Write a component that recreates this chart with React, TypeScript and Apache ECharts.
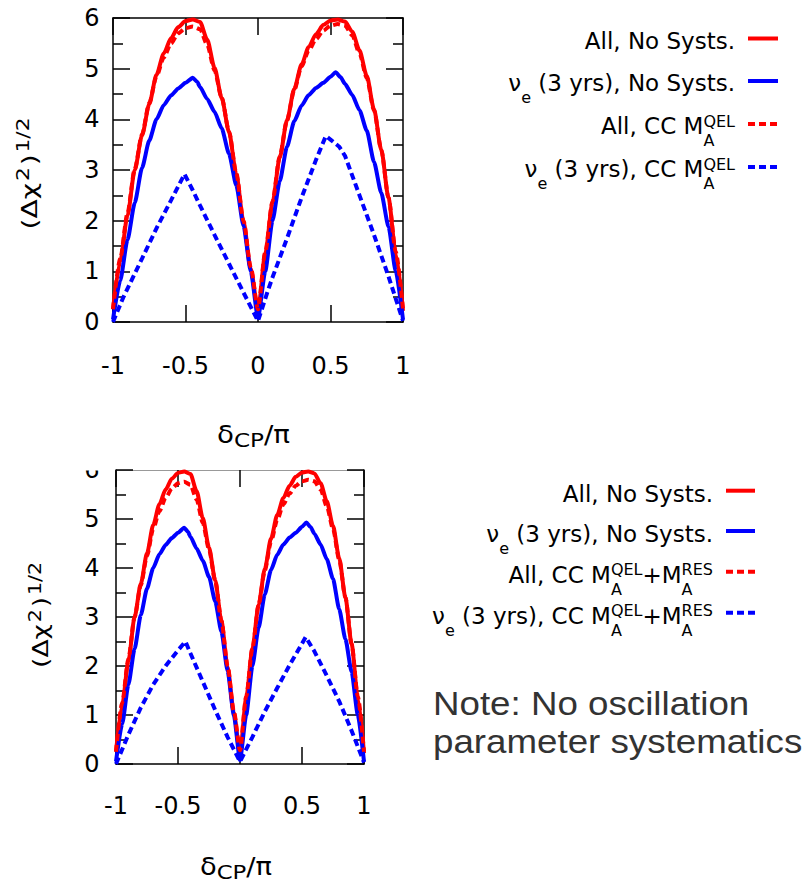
import React, { useEffect, useRef } from 'react';
import * as echarts from 'echarts';

// ---------- data ----------
const xTickValues = [-1, -0.5, 0, 0.5, 1];
const xTickLabels = ['-1', '-0.5', '0', '0.5', '1'];
const yTickLabels = ['0', '1', '2', '3', '4', '5', '6'];

// shared by both panels: "All, No Systs."
const allNoSyst = [
  [-1, 0.25], [-0.95, 1.2], [-0.9, 2.1], [-0.85, 3.0], [-0.8, 3.68], [-0.75, 4.3], [-0.7, 4.88],
  [-0.65, 5.3], [-0.6, 5.6], [-0.55, 5.82], [-0.5, 5.94], [-0.45, 5.97], [-0.4, 5.92], [-0.35, 5.57],
  [-0.3, 5.02], [-0.25, 4.42], [-0.2, 3.75], [-0.15, 2.92], [-0.1, 1.98], [-0.05, 1.05], [0, 0.22],
  [0.05, 1.35], [0.1, 2.35], [0.15, 3.25], [0.2, 3.98], [0.25, 4.6], [0.3, 5.08], [0.35, 5.43],
  [0.4, 5.68], [0.45, 5.86], [0.5, 5.95], [0.55, 5.97], [0.6, 5.93], [0.65, 5.73], [0.7, 5.36],
  [0.75, 4.86], [0.8, 4.2], [0.85, 3.4], [0.9, 2.45], [0.95, 1.35], [1, 0.22],
];
// shared by both panels: "nu_e (3 yrs), No Systs."
const nueNoSyst = [
  [-1, 0.05], [-0.95, 0.82], [-0.9, 1.62], [-0.85, 2.35], [-0.8, 3.04], [-0.75, 3.58], [-0.7, 4.0],
  [-0.65, 4.28], [-0.6, 4.47], [-0.55, 4.61], [-0.5, 4.72], [-0.45, 4.82], [-0.42, 4.74], [-0.4, 4.64],
  [-0.35, 4.4], [-0.3, 4.15], [-0.25, 3.82], [-0.2, 3.32], [-0.15, 2.7], [-0.1, 1.9], [-0.05, 1.0],
  [0, 0.08], [0.05, 1.0], [0.1, 2.0], [0.15, 2.78], [0.2, 3.46], [0.25, 3.96], [0.3, 4.27], [0.35, 4.48],
  [0.4, 4.62], [0.45, 4.72], [0.5, 4.84], [0.535, 4.93], [0.57, 4.83], [0.6, 4.7], [0.65, 4.48],
  [0.7, 4.18], [0.75, 3.78], [0.8, 3.16], [0.85, 2.55], [0.9, 1.88], [0.95, 1.0], [1, 0.05],
];
// top panel: CC M_A^QEL
const topAllQEL = [
  [-1, 0.25], [-0.95, 1.25], [-0.9, 2.15], [-0.85, 3.02], [-0.8, 3.7], [-0.75, 4.32], [-0.7, 4.85],
  [-0.65, 5.22], [-0.6, 5.5], [-0.55, 5.7], [-0.5, 5.8], [-0.45, 5.83], [-0.4, 5.78], [-0.35, 5.47],
  [-0.3, 4.97], [-0.25, 4.42], [-0.2, 3.76], [-0.15, 2.94], [-0.1, 2.0], [-0.05, 1.08], [0, 0.25],
  [0.05, 1.38], [0.1, 2.38], [0.15, 3.27], [0.2, 3.98], [0.25, 4.58], [0.3, 5.04], [0.35, 5.36],
  [0.4, 5.58], [0.45, 5.75], [0.5, 5.85], [0.55, 5.88], [0.6, 5.85], [0.65, 5.66], [0.7, 5.3],
  [0.75, 4.82], [0.8, 4.18], [0.85, 3.4], [0.9, 2.45], [0.95, 1.38], [1, 0.25],
];
const topNueQEL = [
  [-1, 0], [-0.93, 0.48], [-0.8, 1.25], [-0.7, 1.85], [-0.6, 2.4], [-0.507, 2.92], [-0.45, 2.6],
  [-0.4, 2.3], [-0.3, 1.72], [-0.2, 1.15], [-0.1, 0.58], [0, 0.02], [0.066, 0.6], [0.1, 0.88],
  [0.2, 1.65], [0.3, 2.45], [0.4, 3.2], [0.468, 3.67], [0.5, 3.6], [0.56, 3.46], [0.6, 3.28],
  [0.7, 2.5], [0.8, 1.72], [0.9, 0.9], [1, 0.02],
];
// bottom panel: CC M_A^QEL + M_A^RES
const botAllQELRES = [
  [-1, 0.25], [-0.95, 1.25], [-0.9, 2.15], [-0.85, 3.0], [-0.8, 3.65], [-0.75, 4.25], [-0.7, 4.8],
  [-0.65, 5.16], [-0.6, 5.43], [-0.55, 5.62], [-0.5, 5.73], [-0.45, 5.76], [-0.4, 5.7], [-0.35, 5.4],
  [-0.3, 4.92], [-0.25, 4.38], [-0.2, 3.74], [-0.15, 2.93], [-0.1, 2.0], [-0.05, 1.08], [0, 0.28],
  [0.05, 1.38], [0.1, 2.36], [0.15, 3.24], [0.2, 3.95], [0.25, 4.54], [0.3, 4.98], [0.35, 5.3],
  [0.4, 5.52], [0.45, 5.68], [0.5, 5.77], [0.55, 5.8], [0.6, 5.77], [0.65, 5.6], [0.7, 5.26],
  [0.75, 4.8], [0.8, 4.17], [0.85, 3.4], [0.9, 2.45], [0.95, 1.38], [1, 0.25],
];
const botNueQELRES = [
  [-1, 0], [-0.9, 0.6], [-0.8, 1.15], [-0.7, 1.62], [-0.6, 2.0], [-0.5, 2.32], [-0.44, 2.5],
  [-0.4, 2.26], [-0.3, 1.68], [-0.2, 1.1], [-0.1, 0.55], [0, 0.05], [0.1, 0.55], [0.2, 1.07],
  [0.3, 1.55], [0.4, 2.02], [0.53, 2.59], [0.6, 2.3], [0.7, 1.8], [0.8, 1.28], [0.9, 0.68], [1, 0.03],
];

type Seg = { t?: string; sub?: string; sup?: string };

const topLegendLabels: Seg[][] = [
  [{ t: 'All, No Systs.' }],
  [{ t: 'ν' }, { sub: 'e' }, { t: ' (3 yrs), No Systs.' }],
  [{ t: 'All, CC M' }, { sub: 'A', sup: 'QEL' }],
  [{ t: 'ν' }, { sub: 'e' }, { t: ' (3 yrs), CC M' }, { sub: 'A', sup: 'QEL' }],
];
const botLegendLabels: Seg[][] = [
  [{ t: 'All, No Systs.' }],
  [{ t: 'ν' }, { sub: 'e' }, { t: ' (3 yrs), No Systs.' }],
  [{ t: 'All, CC M' }, { sub: 'A', sup: 'QEL' }, { t: '+M' }, { sub: 'A', sup: 'RES' }],
  [{ t: 'ν' }, { sub: 'e' }, { t: ' (3 yrs), CC M' }, { sub: 'A', sup: 'QEL' }, { t: '+M' }, { sub: 'A', sup: 'RES' }],
];
const yNameSegs: Seg[] = [{ t: '(Δχ' }, { sup: '2' }, { t: ')' }, { sup: '1/2' }];
const xNameSegs: Seg[] = [{ t: 'δ' }, { sub: 'CP' }, { t: '/π' }];
const noteLines = ['Note: No oscillation', 'parameter systematics'];

// ---------- styles ----------
const FONT = '"DejaVu Sans", sans-serif';
const NOTE_FONT = '"Liberation Sans", Arial, sans-serif';
const RED = '#ff0000';
const BLUE = '#0000ff';
const DASH = [7, 4];
const seriesStyles = [
  { color: RED, dashed: false, smooth: 0.25 },
  { color: BLUE, dashed: false, smooth: 0.2 },
  { color: RED, dashed: true, smooth: 0.25 },
  { color: BLUE, dashed: true, smooth: 0 },
];

let ctx: CanvasRenderingContext2D | null = null;
function tw(s: string, size: number, family = FONT): number {
  if (!ctx) ctx = document.createElement('canvas').getContext('2d');
  if (!ctx) return s.length * size * 0.6;
  ctx.font = `${size}px ${family}`;
  return ctx.measureText(s).width;
}

function layoutSegs(segs: Seg[], main: number, small: number, subDy: number, supDy: number, gap = 0) {
  let x = 0;
  const items: { text: string; x: number; dy: number; size: number }[] = [];
  segs.forEach((s, i) => {
    if (s.t != null) {
      items.push({ text: s.t, x, dy: 0, size: main });
      x += tw(s.t, main);
    } else {
      let adv = 0;
      if (s.sub) {
        items.push({ text: s.sub, x, dy: subDy, size: small });
        adv = Math.max(adv, tw(s.sub, small));
      }
      if (s.sup) {
        items.push({ text: s.sup, x, dy: supDy, size: small });
        adv = Math.max(adv, tw(s.sup, small));
      }
      x += adv;
    }
    if (i < segs.length - 1) x += gap;
  });
  return { items, width: x };
}

function textEl(text: string, x: number, baseline: number, size: number, family = FONT, fill = '#000', scaleX = 1) {
  return {
    type: 'text',
    x,
    y: baseline - 0.35 * size,
    z: 10,
    scaleX,
    scaleY: 1,
    style: {
      text, fontSize: size, fontFamily: family, fill,
      textAlign: 'left', textVerticalAlign: 'middle', align: 'left', verticalAlign: 'middle',
    },
  };
}

function legendEls(labels: Seg[][], rightX: number, lx1: number, lx2: number, lineYs: number[], baseOff: number) {
  const els: any[] = [];
  labels.forEach((segs, i) => {
    const st = seriesStyles[i];
    const ly = lineYs[i];
    els.push({
      type: 'line', z: 10,
      shape: { x1: lx1, y1: ly, x2: lx2, y2: ly },
      style: { stroke: st.color, lineWidth: 4, lineDash: st.dashed ? DASH : null },
    });
    const { items, width } = layoutSegs(segs, 23, 16, 12, -7.8);
    const x0 = rightX - width;
    items.forEach((it) => els.push(textEl(it.text, x0 + it.x, ly + baseOff + it.dy, it.size)));
  });
  return els;
}

function yNameEl(baseX: number, centerY: number, target: number) {
  const { items, width } = layoutSegs(yNameSegs, 22, 17, 0, -7.5, 1.5);
  const s = target / width;
  return {
    type: 'group', x: baseX, y: centerY, rotation: Math.PI / 2, scaleX: s, scaleY: 1,
    children: items.map((it) => textEl(it.text, it.x - width / 2, it.dy, it.size)),
  };
}

function xNameEl(centerX: number, baseline: number, target: number) {
  const { items, width } = layoutSegs(xNameSegs, 24, 20, 4, 0, 0);
  const s = target / width;
  return {
    type: 'group', x: centerX, y: baseline, scaleX: s, scaleY: 1,
    children: items.map((it) => textEl(it.text, it.x - width / 2, it.dy, it.size)),
  };
}

function axesFor(gi: number, xMargin: number, yMargin: number, topColor: string) {
  const black = { color: '#000', width: 1.5 };
  const xBase = {
    gridIndex: gi, type: 'value', min: -1, max: 1, interval: 0.5,
    splitLine: { show: false },
    axisTick: { show: true, inside: true, length: 17, lineStyle: black },
  };
  const yBase = {
    gridIndex: gi, type: 'value', min: 0, max: 6, interval: 1,
    splitLine: { show: false },
    axisTick: { show: true, inside: true, length: 17, lineStyle: black },
    minorTick: { show: true, splitNumber: 2, length: 10, lineStyle: black },
  };
  const xAxes = [
    {
      ...xBase, position: 'bottom',
      axisLine: { show: true, onZero: false, lineStyle: black },
      axisLabel: {
        show: true, margin: xMargin, fontSize: 24, fontFamily: FONT, color: '#000',
        formatter: (v: number) => {
          const i = xTickValues.findIndex((t) => Math.abs(t - v) < 1e-9);
          return i >= 0 ? xTickLabels[i] : '';
        },
      },
    },
    {
      ...xBase, position: 'top',
      axisLine: { show: true, onZero: false, lineStyle: { color: topColor, width: topColor === '#000' ? 1.5 : 1 } },
      axisLabel: { show: false },
    },
  ];
  const yAxes = [
    {
      ...yBase, position: 'left',
      axisLine: { show: true, onZero: false, lineStyle: black },
      axisLabel: {
        show: true, margin: yMargin, fontSize: 24, fontFamily: FONT, color: '#000',
        formatter: (v: number) => yTickLabels[Math.round(v)] ?? '',
      },
    },
    {
      ...yBase, position: 'right',
      axisLine: { show: true, onZero: false, lineStyle: black },
      axisLabel: { show: false },
    },
  ];
  return { xAxes, yAxes };
}

function mkSeries(name: string, data: number[][], xi: number, yi: number, st: { color: string; dashed: boolean; smooth: number }) {
  return {
    name, type: 'line', data, xAxisIndex: xi, yAxisIndex: yi,
    showSymbol: false, symbol: 'none',
    smooth: st.smooth > 0 ? st.smooth : false, smoothMonotone: 'x',
    lineStyle: { color: st.color, width: 4, type: st.dashed ? DASH : 'solid' },
    itemStyle: { color: st.color },
  };
}

function buildOption() {
  const a0 = axesFor(0, 32, 13.5, '#000');
  const a1 = axesFor(1, 30, 16.5, '#999');
  const graphicEls: any[] = [
    // crop of the lower figure (upper half of its "6" label is cut off)
    { type: 'rect', z: 100, shape: { x: 40, y: 446, width: 74, height: 24.5 }, style: { fill: '#fff' } },
    ...legendEls(topLegendLabels, 735, 748, 778, [38.5, 81, 124, 167], 10.5),
    ...legendEls(botLegendLabels, 713, 726, 755, [490.7, 531, 571.7, 612.7], 11),
    yNameEl(37, 173.5, 112),
    yNameEl(48, 615, 106),
    xNameEl(253.5, 443, 73),
    xNameEl(236, 875, 72),
    ...noteLines.map((line, i) => textEl(line, 433, 715 + i * 38, 34, NOTE_FONT, '#333', 1.08)),
  ];
  return {
    animation: false,
    backgroundColor: '#fff',
    grid: [
      { left: 113, top: 18, width: 290, height: 304, show: false },
      { left: 116, top: 470, width: 248, height: 294, show: false },
    ],
    xAxis: [...a0.xAxes, ...a1.xAxes],
    yAxis: [...a0.yAxes, ...a1.yAxes],
    series: [
      mkSeries('All, No Systs.', allNoSyst, 0, 0, seriesStyles[0]),
      mkSeries('νe (3 yrs), No Systs.', nueNoSyst, 0, 0, seriesStyles[1]),
      mkSeries('All, CC MA QEL', topAllQEL, 0, 0, seriesStyles[2]),
      mkSeries('νe (3 yrs), CC MA QEL', topNueQEL, 0, 0, seriesStyles[3]),
      mkSeries('All, No Systs. (2)', allNoSyst, 2, 2, seriesStyles[0]),
      mkSeries('νe (3 yrs), No Systs. (2)', nueNoSyst, 2, 2, seriesStyles[1]),
      mkSeries('All, CC MA QEL+MA RES', botAllQELRES, 2, 2, seriesStyles[2]),
      mkSeries('νe (3 yrs), CC MA QEL+MA RES', botNueQELRES, 2, 2, seriesStyles[3]),
    ],
    graphic: { elements: graphicEls },
  };
}

export default function App() {
  const ref = useRef<HTMLDivElement>(null);
  useEffect(() => {
    if (!ref.current) return;
    const chart = echarts.init(ref.current, null, { renderer: 'svg' });
    chart.setOption(buildOption() as any);
    return () => chart.dispose();
  }, []);
  return <div ref={ref} style={{ position: 'absolute', left: 0, top: 0, width: 809, height: 883 }} />;
}
